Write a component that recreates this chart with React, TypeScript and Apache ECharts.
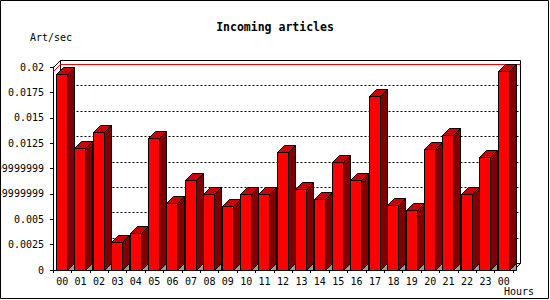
import React, { useEffect, useRef } from "react";
import * as echarts from "echarts";

const hours = ["00","01","02","03","04","05","06","07","08","09","10","11","12","13","14","15","16","17","18","19","20","21","22","23","00"];
const artPerSec = [0.0193, 0.0120, 0.0136, 0.0028, 0.0036, 0.0130, 0.0066, 0.0089, 0.0075, 0.0063, 0.0075, 0.0075, 0.0116, 0.0080, 0.0070, 0.0106, 0.0089, 0.0171, 0.0064, 0.0059, 0.0119, 0.0133, 0.0075, 0.0111, 0.0196];
const yTickValues = [0, 0.0025, 0.005, 0.0075, 0.01, 0.0125, 0.015, 0.0175, 0.02];
const yTickLabels = ["0", "0.0025", "0.005", "0.00749999999", "0.00999999999", "0.0125", "0.015", "0.0175", "0.02"];

const FONT = "'DejaVu Sans Mono', monospace";
const DEPTH = 7;
const p = (v: number) => Math.round(v) + 0.5;

export default function App() {
  const ref = useRef<HTMLDivElement>(null);
  useEffect(() => {
    if (!ref.current) return;
    const chart = echarts.init(ref.current, undefined, { renderer: "svg" });
    const maxVal = Math.max(...artPerSec);
    chart.setOption({
      animation: false,
      backgroundColor: "#ffffff",
      textStyle: { fontFamily: FONT },
      title: {
        text: "Incoming articles",
        left: "center",
        top: 16,
        textStyle: { fontFamily: FONT, fontSize: 11.5, fontWeight: "bold", color: "#000" },
      },
      graphic: [
        { type: "rect", shape: { x: 0.5, y: 0.5, width: 548, height: 298 }, style: { fill: "none", stroke: "#000", lineWidth: 1 }, z: 100 },
        { type: "text", left: 30, top: 32, style: { text: "Art/sec", font: `10px ${FONT}`, fill: "#000" } },
        { type: "text", left: 504, top: 286, style: { text: "Hours", font: `10px ${FONT}`, fill: "#000" } },
      ],
      grid: { left: 53, top: 67, width: 460, height: 203, containLabel: false, outerBoundsMode: "none" },
      xAxis: {
        type: "category",
        data: hours,
        boundaryGap: true,
        axisLine: { lineStyle: { color: "#000", width: 1 } },
        axisTick: { show: true, length: 3, lineStyle: { color: "#000" } },
        axisLabel: { interval: 0, margin: 6, fontFamily: FONT, fontSize: 10, color: "#000" },
        splitLine: { show: false },
      },
      yAxis: {
        type: "value",
        min: 0,
        max: 0.02,
        interval: 0.0025,
        axisLine: { show: true, lineStyle: { color: "#000", width: 1 } },
        axisTick: { show: true, length: 3, lineStyle: { color: "#000" } },
        axisLabel: {
          margin: 9,
          fontFamily: FONT,
          fontSize: 10,
          color: "#000",
          formatter: (v: number) => yTickLabels[Math.round(v / 0.0025)] ?? "",
        },
        splitLine: { show: false },
      },
      series: [
        {
          type: "custom",
          z: 1,
          silent: true,
          data: yTickValues.map((v) => [0, v]),
          encode: { x: 0, y: 1 },
          renderItem: (params: any, api: any) => {
            const cs = params.coordSys;
            const v = api.value(1);
            const y = api.coord([0, v])[1];
            const left = cs.x;
            const right = cs.x + cs.width;
            const children: any[] = [];
            if (params.dataIndex === 0) {
              const top = cs.y;
              const bottom = cs.y + cs.height;
              children.push({
                type: "rect",
                shape: { x: p(left + DEPTH), y: p(top - DEPTH), width: Math.round(cs.width), height: Math.round(cs.height) },
                style: { fill: "#fff", stroke: "#000", lineWidth: 1 },
              });
              children.push({
                type: "line",
                shape: { x1: p(left), y1: p(top), x2: p(left + DEPTH), y2: p(top - DEPTH) },
                style: { stroke: "#000", lineWidth: 1 },
              });
              children.push({
                type: "line",
                shape: { x1: p(right), y1: p(bottom), x2: p(right + DEPTH), y2: p(bottom - DEPTH) },
                style: { stroke: "#000", lineWidth: 1 },
              });
              const ym = api.coord([0, maxVal])[1];
              children.push({
                type: "polyline",
                shape: { points: [[p(left), p(ym)], [p(left + DEPTH), p(ym - DEPTH)], [p(right + DEPTH), p(ym - DEPTH)]] },
                style: { fill: "none", stroke: "#ff0000", lineWidth: 1 },
              });
            } else if (v < 0.02) {
              children.push({
                type: "line",
                shape: { x1: p(left + DEPTH), y1: p(y - DEPTH), x2: p(right + DEPTH), y2: p(y - DEPTH) },
                style: { stroke: "#000", lineWidth: 1, lineDash: [2, 2] },
              });
            }
            return { type: "group", children };
          },
        },
        {
          type: "custom",
          z: 3,
          data: artPerSec.map((v, i) => [i, v]),
          encode: { x: 0, y: 1 },
          renderItem: (params: any, api: any) => {
            const i = api.value(0);
            const v = api.value(1);
            const [cx, yTop] = api.coord([i, v]);
            const y0 = api.coord([i, 0])[1];
            const bw = api.size([1, 0])[0];
            const L = p(cx - bw / 2 + 3);
            const R = L + 11;
            const T = p(yTop);
            const B = p(y0);
            const d = DEPTH;
            return {
              type: "group",
              children: [
                {
                  type: "polygon",
                  shape: { points: [[R, B], [R + d, B - d], [R + d, B]] },
                  style: { fill: "#999999", stroke: "#000", lineWidth: 1 },
                },
                {
                  type: "polygon",
                  shape: { points: [[R, T], [R + d, T - d], [R + d, B - d], [R, B]] },
                  style: { fill: "#800000", stroke: "#000", lineWidth: 1 },
                },
                {
                  type: "polygon",
                  shape: { points: [[L, T], [L + d, T - d], [R + d, T - d], [R, T]] },
                  style: { fill: "#cc0000", stroke: "#000", lineWidth: 1 },
                },
                {
                  type: "rect",
                  shape: { x: L, y: T, width: R - L, height: B - T },
                  style: { fill: "#ff0000", stroke: "#000", lineWidth: 1 },
                },
              ],
            };
          },
        },
      ],
    });
    return () => chart.dispose();
  }, []);
  return <div ref={ref} style={{ position: "fixed", left: 0, top: 0, width: 550, height: 300 }} />;
}
